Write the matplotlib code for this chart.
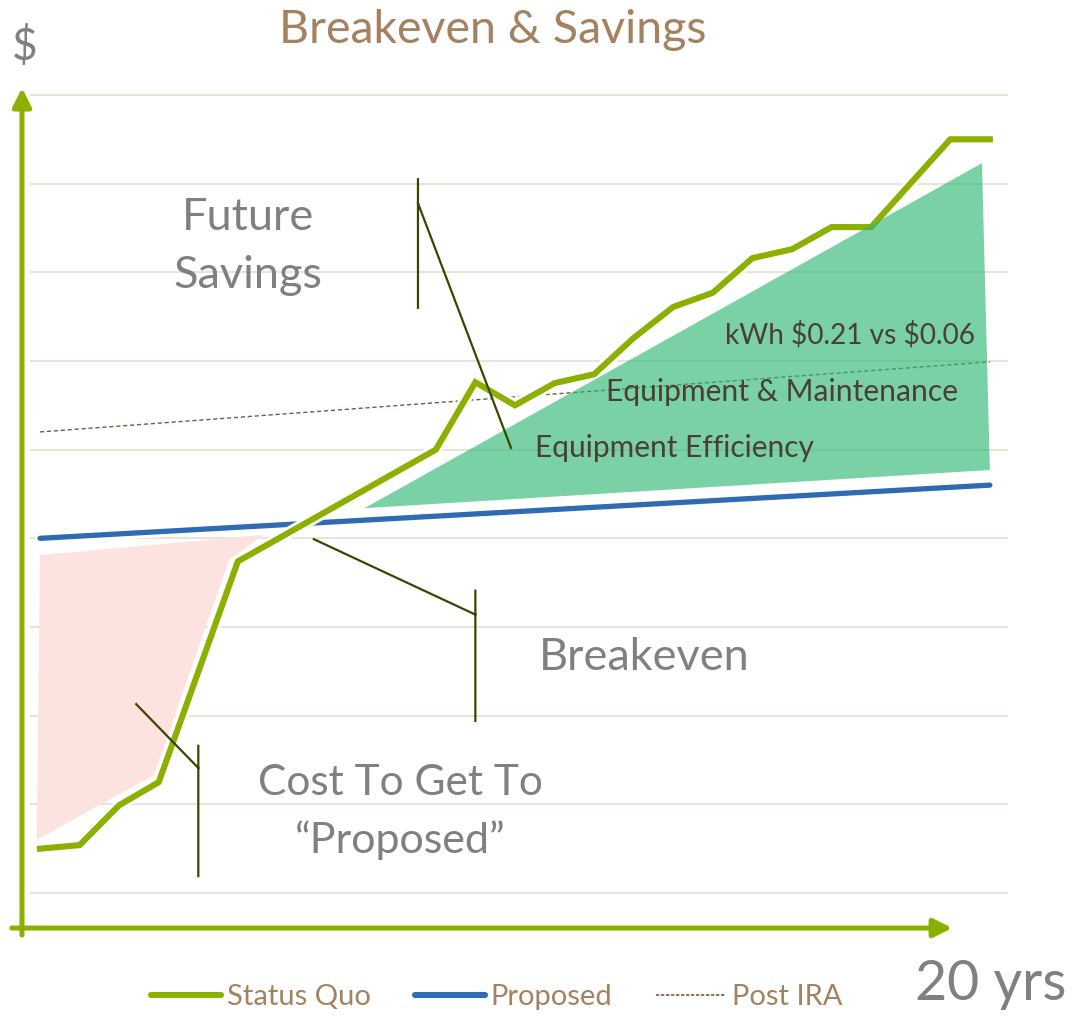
import matplotlib
matplotlib.use("Agg")
import matplotlib.pyplot as plt
import matplotlib.patheffects as pe
from matplotlib.lines import Line2D

plt.rcParams['font.family'] = ['Lato', 'DejaVu Sans']

# x = year index, y = cumulative cost ($ units)
sq_x = [0, 1, 2, 3, 5, 10, 11, 12, 13, 14, 15, 16, 17, 18, 19, 20, 21, 23, 24]
sq_y = [15.0, 15.4, 19.9, 22.5, 47.4, 60.0, 67.6, 65.0, 67.5, 68.5, 72.6,
        76.1, 77.7, 81.6, 82.6, 85.1, 85.1, 95.0, 95.0]

prop_x = [0, 24]
prop_y = [50.0, 56.0]

ira_x = [0, 24]
ira_y = [62.0, 69.9]

# savings wedge and cost-to-get-there area
save_x = [8.2, 23.8, 24.0]
save_y = [53.4, 92.3, 57.7]
cost_x = [0.0, 5.66, 4.78, 2.88, -0.08]
cost_y = [48.1, 50.4, 47.6, 23.3, 16.0]

grid_y = [10, 20, 30, 40, 50, 60, 70, 80, 90, 100]

# leader lines for the callouts
future_lx = [9.55, 9.55, None, 9.55, 11.9]
future_ly = [90.5, 76.0, None, 87.8, 60.2]
break_lx = [6.92, 11.0, None, 11.0, 11.0]
break_ly = [49.9, 41.4, None, 44.1, 29.4]
cost_lx = [2.43, 4.0, None, 4.0, 4.0]
cost_ly = [31.3, 24.1, None, 26.6, 11.9]

GREEN = '#8CB000'
BLUE = '#2E6BB3'
TAN = '#A5825F'
GRAY = '#808080'
DARK = '#4B3E33'
LEADER = '#3A4600'

fig = plt.figure(figsize=(10.73, 10.16), dpi=100)
ax = fig.add_axes([0, 0, 1, 1])
ax.set_xlim(-1.0106, 26.10)
ax.set_ylim(-3.87, 110.71)
ax.axis('off')

ax.hlines(grid_y, -0.25, 24.46, color='#E9E3DA', lw=1.5, zorder=0)

# axes arrows
ax.annotate('', xy=(-0.455, 100.8), xytext=(-0.455, 5.26),
            arrowprops=dict(arrowstyle='-|>', color=GREEN, lw=3.6,
                            mutation_scale=28, shrinkA=0, shrinkB=0))
ax.annotate('', xy=(23.05, 6.05), xytext=(-0.71, 6.05),
            arrowprops=dict(arrowstyle='-|>', color=GREEN, lw=3.6,
                            mutation_scale=28, shrinkA=0, shrinkB=0))

ax.fill(cost_x, cost_y, color='#FDE3E0', lw=0, zorder=1)
ax.plot(ira_x, ira_y, color='#7A5A40', lw=1.0, ls=(0, (3, 2)), zorder=1)

ax.plot(prop_x, prop_y, color=BLUE, lw=3.8, solid_capstyle='round', zorder=3,
        path_effects=[pe.Stroke(linewidth=8, foreground='white'), pe.Normal()])
ax.plot(sq_x, sq_y, color=GREEN, lw=4.4, solid_joinstyle='miter', zorder=4,
        path_effects=[pe.Stroke(linewidth=8.5, foreground='white'), pe.Normal()])
ax.fill(save_x, save_y, color='#2EB872', alpha=0.64, lw=0, zorder=4.5)

for lx, ly in [(future_lx, future_ly), (break_lx, break_ly), (cost_lx, cost_ly)]:
    ax.plot(lx, ly, color=LEADER, lw=1.6, zorder=5)

def ft(px, py, s, **kw):
    fig.text(px / 1073, 1 - py / 1016, s, **kw)

ft(493, 30, 'Breakeven & Savings', color=TAN, fontsize=33.5, ha='center', va='center')
ft(25, 47, r'\$', color=GRAY, fontsize=32, ha='center', va='center')
ft(991, 985, '20 yrs', color=GRAY, fontsize=40, ha='center', va='center')

ft(248, 217, 'Future', color=GRAY, fontsize=32.5, ha='center', va='center')
ft(248, 276, 'Savings', color=GRAY, fontsize=32.5, ha='center', va='center')
ft(644, 657, 'Breakeven', color=GRAY, fontsize=32.5, ha='center', va='center')
ft(400, 783, 'Cost To Get To', color=GRAY, fontsize=30.5, ha='center', va='center')
ft(400, 840, '\u201cProposed\u201d', color=GRAY, fontsize=31, ha='center', va='center')

ft(975, 335, r'kWh \$0.21 vs \$0.06', color=DARK, fontsize=20.2, ha='right', va='center')
ft(782, 392, 'Equipment & Maintenance', color=DARK, fontsize=21.6, ha='center', va='center')
ft(535, 448, 'Equipment Efficiency', color=DARK, fontsize=21.5, ha='left', va='center')

handles = [Line2D([], [], color=GREEN, lw=4.4, solid_capstyle='round'),
           Line2D([], [], color=BLUE, lw=4.4, solid_capstyle='round'),
           Line2D([], [], color='#7A5A40', lw=1.2, ls=(0, (2, 1)))]
leg = fig.legend(handles, ['Status Quo', 'Proposed', 'Post IRA'], ncol=3,
                 loc='center', bbox_to_anchor=(497 / 1073, 1 - 997 / 1016),
                 frameon=False, fontsize=21, handlelength=2.4, handletextpad=0.2,
                 columnspacing=1.5)
for t in leg.get_texts():
    t.set_color(TAN)

fig.savefig('out.png', dpi=100)
